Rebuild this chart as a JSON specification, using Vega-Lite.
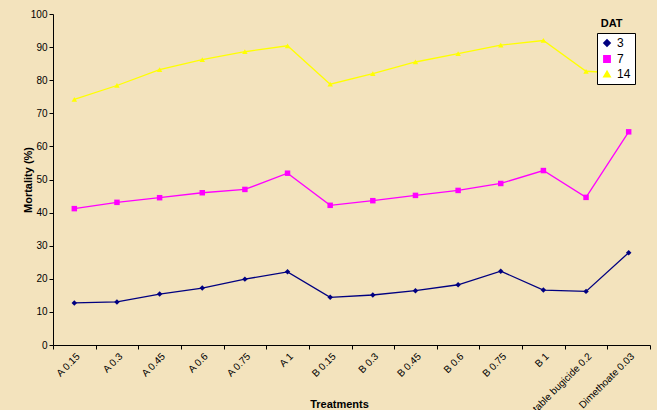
{
  "$schema": "https://vega.github.io/schema/vega-lite/v6.json",
  "autosize": {"type": "none"},
  "width": 597,
  "height": 331,
  "padding": {"left": 53, "top": 14, "right": 7, "bottom": 65},
  "background": "#F3E3BD",
  "config": {
    "font": "Liberation Sans",
    "view": {"stroke": null},
    "axis": {"labelFont": "Liberation Sans", "titleFont": "Liberation Sans", "labelColor": "#000000", "titleColor": "#000000", "domainColor": "#000000", "tickColor": "#000000", "grid": false}
  },
  "title": {"text": "DAT", "anchor": "end", "fontSize": 11, "fontWeight": "bold", "font": "Liberation Sans", "color": "#000000", "dx": -28, "dy": 20, "offset": 0},
  "data": {"values": [
    {"t": "A 0.15", "dat": "3", "m": 12.7}, {"t": "A 0.3", "dat": "3", "m": 13.0}, {"t": "A 0.45", "dat": "3", "m": 15.4}, {"t": "A 0.6", "dat": "3", "m": 17.2}, {"t": "A 0.75", "dat": "3", "m": 19.9}, {"t": "A 1", "dat": "3", "m": 22.1}, {"t": "B 0.15", "dat": "3", "m": 14.4}, {"t": "B 0.3", "dat": "3", "m": 15.1}, {"t": "B 0.45", "dat": "3", "m": 16.4}, {"t": "B 0.6", "dat": "3", "m": 18.2}, {"t": "B 0.75", "dat": "3", "m": 22.3}, {"t": "B 1", "dat": "3", "m": 16.6}, {"t": "Vegetable bugicide 0.2", "dat": "3", "m": 16.2}, {"t": "Dimethoate 0.03", "dat": "3", "m": 27.9},
    {"t": "A 0.15", "dat": "7", "m": 41.2}, {"t": "A 0.3", "dat": "7", "m": 43.1}, {"t": "A 0.45", "dat": "7", "m": 44.5}, {"t": "A 0.6", "dat": "7", "m": 46.0}, {"t": "A 0.75", "dat": "7", "m": 47.0}, {"t": "A 1", "dat": "7", "m": 51.9}, {"t": "B 0.15", "dat": "7", "m": 42.2}, {"t": "B 0.3", "dat": "7", "m": 43.6}, {"t": "B 0.45", "dat": "7", "m": 45.2}, {"t": "B 0.6", "dat": "7", "m": 46.7}, {"t": "B 0.75", "dat": "7", "m": 48.8}, {"t": "B 1", "dat": "7", "m": 52.7}, {"t": "Vegetable bugicide 0.2", "dat": "7", "m": 44.6}, {"t": "Dimethoate 0.03", "dat": "7", "m": 64.4},
    {"t": "A 0.15", "dat": "14", "m": 74.2}, {"t": "A 0.3", "dat": "14", "m": 78.4}, {"t": "A 0.45", "dat": "14", "m": 83.2}, {"t": "A 0.6", "dat": "14", "m": 86.2}, {"t": "A 0.75", "dat": "14", "m": 88.6}, {"t": "A 1", "dat": "14", "m": 90.4}, {"t": "B 0.15", "dat": "14", "m": 78.8}, {"t": "B 0.3", "dat": "14", "m": 82.0}, {"t": "B 0.45", "dat": "14", "m": 85.5}, {"t": "B 0.6", "dat": "14", "m": 88.0}, {"t": "B 0.75", "dat": "14", "m": 90.6}, {"t": "B 1", "dat": "14", "m": 92.0}, {"t": "Vegetable bugicide 0.2", "dat": "14", "m": 82.7}, {"t": "Dimethoate 0.03", "dat": "14", "m": 82.0}
  ]},
  "mark": {"type": "line", "strokeWidth": 1.3, "point": {"filled": true, "size": 30}},
  "encoding": {
    "x": {
      "field": "t", "type": "nominal", "sort": null,
      "scale": {"type": "band", "paddingInner": 0, "paddingOuter": 0},
      "axis": {"title": "Treatments", "titleFontSize": 11, "titleFontWeight": "bold", "titleY": 62, "titleBaseline": "alphabetic", "titleX": 286, "labelAngle": -45, "labelFontSize": 10, "labelPadding": 2, "tickBand": "extent", "tickSize": 4, "labelOverlap": false}
    },
    "y": {
      "field": "m", "type": "quantitative",
      "scale": {"domain": [0, 100], "nice": false},
      "axis": {"title": "Mortality (%)", "titleFontSize": 11, "titleFontWeight": "bold", "titlePadding": -3, "values": [0, 10, 20, 30, 40, 50, 60, 70, 80, 90, 100], "labelFontSize": 10, "tickSize": 4}
    },
    "color": {
      "field": "dat", "type": "nominal", "sort": ["3", "7", "14"],
      "scale": {"domain": ["3", "7", "14"], "range": ["#000080", "#FF00FF", "#FFFF00"]},
      "legend": {"title": null, "orient": "none", "legendX": 544, "legendY": 19, "fillColor": "#FFFFFF", "strokeColor": "#000000", "padding": 4, "labelFontSize": 12, "labelFont": "Liberation Sans", "rowPadding": 2, "symbolSize": 40}
    },
    "shape": {
      "field": "dat", "type": "nominal", "sort": ["3", "7", "14"],
      "scale": {"domain": ["3", "7", "14"], "range": ["diamond", "square", "triangle-up"]},
      "legend": {"title": null, "orient": "none", "legendX": 544, "legendY": 19, "fillColor": "#FFFFFF", "strokeColor": "#000000", "padding": 4, "labelFontSize": 12, "labelFont": "Liberation Sans", "rowPadding": 2, "symbolSize": 40}
    }
  }
}
